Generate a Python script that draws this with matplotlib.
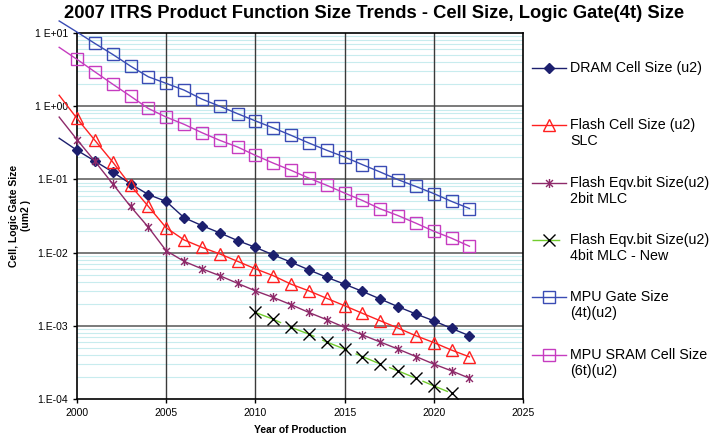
import numpy as np
import matplotlib
matplotlib.use('Agg')
import matplotlib.pyplot as plt
from matplotlib.lines import Line2D
from matplotlib.path import Path
from matplotlib.legend_handler import HandlerLine2D, HandlerTuple
from matplotlib.ticker import FixedLocator, FixedFormatter, LogLocator, NullFormatter

plt.rcParams['font.family'] = ['Liberation Sans', 'DejaVu Sans']

# years of the series (1999 = lead-in of the line, drawn without marker)
years = np.arange(1999, 2023)
nan = np.nan

dram = [0.365, 0.25, 0.178, 0.126, 0.087, 0.062, 0.050, 0.030, 0.0234, 0.0186, 0.0146, 0.0118,
        0.0093, 0.0074, 0.0058, 0.0046, 0.0037, 0.00295, 0.00232, 0.00182, 0.00145, 0.00117,
        0.00092, 0.00073]
flash_slc = [1.41, 0.68, 0.342, 0.173, 0.083, 0.0427, 0.0218, 0.0149, 0.0118, 0.0096, 0.0076, 0.0060,
             0.00484, 0.0037, 0.0030, 0.00237, 0.00188, 0.00148, 0.00117, 0.00093, 0.00073, 0.00059,
             0.000465, 0.000376]
flash_2bit = [0.71, 0.349, 0.177, 0.087, 0.0427, 0.0222, 0.0106, 0.0076, 0.0060, 0.00484, 0.0038, 0.0030,
              0.00244, 0.00194, 0.00152, 0.00121, 0.00095, 0.00075, 0.00060, 0.00048, 0.00038, 0.00030,
              0.000242, 0.000192]
flash_4bit = [nan] * 11 + [0.00152, 0.00123, 0.00095, 0.00077, 0.00060, 0.00048, 0.00038, 0.00030,
                           0.000242, 0.000192, 0.000151, 0.00012, nan]
mpu_gate = [14.6, 10.3, 7.2, 5.1, 3.53, 2.52, 2.05, 1.66, 1.25, 1.0, 0.79, 0.63,
            0.505, 0.40, 0.314, 0.25, 0.202, 0.159, 0.126, 0.099, 0.080, 0.064, 0.050, 0.040]
mpu_sram = [6.37, 4.36, 2.95, 2.0, 1.37, 0.93, 0.71, 0.566, 0.435, 0.342, 0.277, 0.213,
            0.167, 0.133, 0.104, 0.083, 0.065, 0.0515, 0.0396, 0.032, 0.0252, 0.0196, 0.0157, 0.0122]

labels = ['DRAM Cell Size (u2)', 'Flash Cell Size (u2)\nSLC', 'Flash Eqv.bit Size(u2)\n2bit MLC',
          'Flash Eqv.bit Size(u2)\n4bit MLC - New', 'MPU Gate Size\n(4t)(u2)', 'MPU SRAM Cell Size\n(6t)(u2)']
first_marker = [2000, 2000, 2000, 2010, 2001, 2000]

ytick_vals = [1e-4, 1e-3, 1e-2, 1e-1, 1e0, 1e1]
ytick_labels = ['1.E-04', '1.E-03', '1.E-02', '1.E-01', '1 E+00', '1 E+01']
xtick_vals = [2000, 2005, 2010, 2015, 2020, 2025]

# Excel-like "star" marker: an x with a vertical bar
star = Path([(-1, -1), (1, 1), (-1, 1), (1, -1), (0, -1.3), (0, 1.3)],
            [Path.MOVETO, Path.LINETO, Path.MOVETO, Path.LINETO, Path.MOVETO, Path.LINETO])

styles = [
    dict(color='#1c1f6e', ls='-', marker='D', mfc='#1c1f6e', mec='#1c1f6e', ms=4.6, mew=1),
    dict(color='#ff2020', ls='-', marker='^', mfc='none', mec='#ff2020', ms=8.5, mew=1.0),
    dict(color='#8e2a6a', ls='-', marker=star, mfc='none', mec='#8e2a6a', ms=6.5, mew=1.0),
    dict(color='#72cc2e', ls=(0, (20, 6)), marker='x', mfc='none', mec='black', ms=8, mew=1.0),
    dict(color='#3a4cb4', ls='-', marker='s', mfc='none', mec='#3a4cb4', ms=8, mew=1.0),
    dict(color='#c63cc0', ls='-', marker='s', mfc='none', mec='#c63cc0', ms=8, mew=1.0),
]

fig = plt.figure(figsize=(7.17, 4.37), dpi=100)
ax = fig.add_axes([0.1074, 0.087, 0.622, 0.8375])
ax.set_yscale('log')
ax.set_xlim(2000, 2025)
ax.set_ylim(1e-4, 1e1)

handles = []
for vals, st, fm in zip([dram, flash_slc, flash_2bit, flash_4bit, mpu_gate, mpu_sram], styles, first_marker):
    vals = np.array(vals, dtype=float)
    ln, = ax.plot(years, vals, color=st['color'], ls=st['ls'], lw=1.0, clip_on=False, zorder=3)
    m = years >= fm
    mk, = ax.plot(years[m], vals[m], ls='none', marker=st['marker'], mfc=st['mfc'], mec=st['mec'],
                  ms=st['ms'], mew=st['mew'], clip_on=False, zorder=4)
    handles.append((ln, mk))

# grid: light minor lines, then gray decades and dark year lines on top
ax.yaxis.set_minor_locator(LogLocator(base=10, subs=np.arange(2, 10), numticks=20))
ax.yaxis.set_minor_formatter(NullFormatter())
ax.yaxis.set_major_locator(FixedLocator(ytick_vals))
ax.yaxis.set_major_formatter(FixedFormatter(ytick_labels))
ax.set_xticks(xtick_vals)
ax.grid(True, which='minor', axis='y', color='#c8ecee', lw=0.8)
ax.set_axisbelow(True)
for v in ytick_vals[1:-1]:
    ax.axhline(v, color='#7a7a7a', lw=1.4, zorder=1)
for v in xtick_vals[1:-1]:
    ax.axvline(v, color='#3a3a3a', lw=1.0, zorder=1.2)
ax.tick_params(axis='both', which='major', labelsize=7.5, direction='out', length=3, width=1, colors='black')
ax.tick_params(axis='y', which='minor', length=0)
for s in ax.spines.values():
    s.set_linewidth(1.2)
    s.set_color('black')

ax.set_xlabel('Year of Production', fontsize=7.5, fontweight='bold', labelpad=5)
ax.set_ylabel('Cell, Logic Gate Size\n(um2 )', fontsize=7.5, fontweight='bold', labelpad=3)
fig.text(0.5216, 0.968, '2007 ITRS Product Function Size Trends - Cell Size, Logic Gate(4t) Size',
         ha='center', va='center', fontsize=13.2, fontweight='bold')


class FirstLineHandler(HandlerLine2D):
    # put the handle next to the first line of a two-line label
    def create_artists(self, legend, orig_handle, xdescent, ydescent, width, height, fontsize, trans):
        return super().create_artists(legend, orig_handle, xdescent, ydescent - 1.2 * fontsize,
                                      width, height, fontsize, trans)


leg_labels = [l if '\n' in l else l + '\n ' for l in labels]
fig.legend(handles, leg_labels, loc='upper left', bbox_to_anchor=(0.742, 0.861), frameon=False,
           fontsize=10.3, handlelength=2.4, handletextpad=0.27, labelspacing=1.9, borderpad=0,
           borderaxespad=0,
           handler_map={tuple: HandlerTuple(ndivide=1), Line2D: FirstLineHandler()})

fig.savefig('out.png', dpi=100)
